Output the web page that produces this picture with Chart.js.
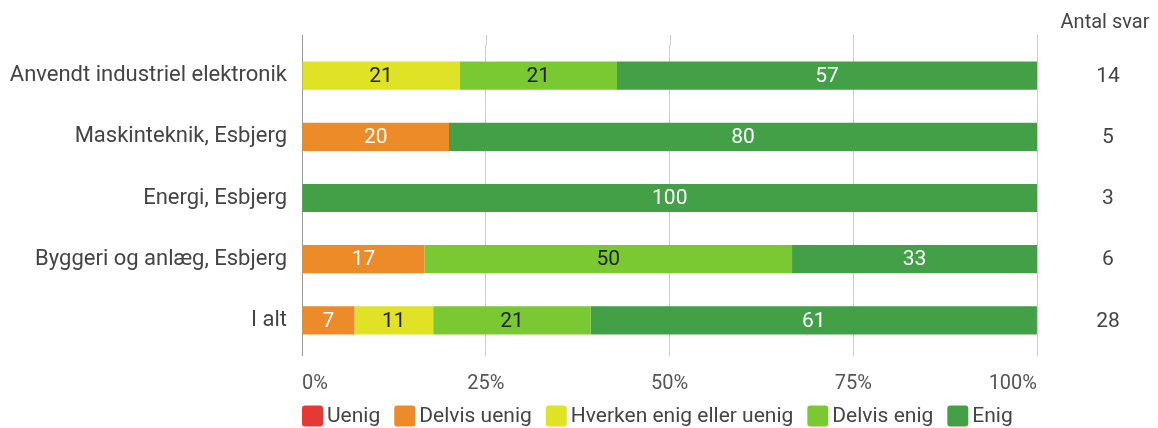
<!DOCTYPE html>
<html><head><meta charset="utf-8">
<script src="https://cdn.jsdelivr.net/npm/chart.js@4/dist/chart.umd.min.js"></script>
<style>html,body{margin:0;padding:0;background:#fff}#wrap{width:1158px;height:428px}</style>
</head><body><div id="wrap"><canvas id="c" width="1158" height="428"></canvas></div>
<script>
const categories = ["Anvendt industriel elektronik","Maskinteknik, Esbjerg","Energi, Esbjerg","Byggeri og anlæg, Esbjerg","I alt"];
const seriesNames = ["Uenig","Delvis uenig","Hverken enig eller uenig","Delvis enig","Enig"];
const uenig = [0,0,0,0,0];
const delvisUenig = [0,20,0,16.67,7.14];
const hverken = [21.43,0,0,0,10.71];
const delvisEnig = [21.43,0,0,50,21.43];
const enig = [57.14,80,100,33.33,60.71];
const antalSvar = [14,5,3,6,28];
const xTicks = [0,25,50,75,100];

const colors = ["#E53935","#EC8B28","#E0E226","#7AC832","#43A047"];
const labelColors = ["#ffffff","#ffffff","#222222","#222222","#ffffff"];
const FONT = "Roboto";

function roundRect(ctx,x,y,w,h,r){
  ctx.beginPath();
  ctx.moveTo(x+r,y); ctx.lineTo(x+w-r,y); ctx.quadraticCurveTo(x+w,y,x+w,y+r);
  ctx.lineTo(x+w,y+h-r); ctx.quadraticCurveTo(x+w,y+h,x+w-r,y+h);
  ctx.lineTo(x+r,y+h); ctx.quadraticCurveTo(x,y+h,x,y+h-r);
  ctx.lineTo(x,y+r); ctx.quadraticCurveTo(x,y,x+r,y); ctx.closePath();
}

const valueLabels = {
  id:'valueLabels',
  afterDatasetsDraw(chart){
    const ctx = chart.ctx;
    ctx.save();
    ctx.font = "21px " + FONT;
    ctx.textAlign = 'center'; ctx.textBaseline = 'middle';
    chart.data.datasets.forEach((ds,i)=>{
      const meta = chart.getDatasetMeta(i);
      meta.data.forEach((bar,j)=>{
        const v = ds.data[j];
        if(!v) return;
        const p = bar.getProps(['x','y','base'],true);
        ctx.fillStyle = labelColors[i];
        ctx.fillText(String(Math.round(v)), (p.x+p.base)/2, p.y+1);
      });
    });
    const y = chart.scales.y;
    ctx.fillStyle = "#444";
    ctx.font = "20px " + FONT;
    ctx.fillText("Antal svar", 1105, 23);
    ctx.font = "21px " + FONT;
    antalSvar.forEach((n,j)=>{
      ctx.fillText(String(n), 1108, y.getPixelForValue(j)+1);
    });
    // legend
    const a = chart.chartArea;
    let lx = a.left;
    const ly = 416;
    ctx.font = "21px " + FONT;
    ctx.textAlign = 'left';
    seriesNames.forEach((name,i)=>{
      ctx.fillStyle = colors[i];
      roundRect(ctx, lx, ly-10.5, 21, 21, 3); ctx.fill();
      ctx.fillStyle = "#444";
      ctx.fillText(name, lx+25, ly+1);
      lx += 25 + ctx.measureText(name).width + 14;
    });
    ctx.restore();
  },
  beforeDatasetsDraw(chart){
    const ctx = chart.ctx, x = chart.scales.x, a = chart.chartArea;
    ctx.save();
    ctx.strokeStyle = "#cccccc"; ctx.lineWidth = 1;
    xTicks.forEach(t=>{
      const px = Math.round(x.getPixelForValue(t))+0.5;
      ctx.beginPath(); ctx.moveTo(px, a.top-10); ctx.lineTo(px, a.top); ctx.stroke();
    });
    ctx.strokeStyle = "#999999";
    const p0 = Math.round(x.getPixelForValue(0))+0.5;
    ctx.beginPath(); ctx.moveTo(p0, a.top-10); ctx.lineTo(p0, a.bottom+5); ctx.stroke();
    ctx.restore();
  }
};

const series = [uenig, delvisUenig, hverken, delvisEnig, enig];
new Chart(document.getElementById('c'), {
  type:'bar',
  data:{
    labels: categories,
    datasets: series.map((d,i)=>({label:seriesNames[i], data:d, backgroundColor:colors[i], borderWidth:0, barPercentage:0.46, categoryPercentage:1}))
  },
  options:{
    indexAxis:'y', responsive:false, animation:false,
    layout:{padding:{top:45,right:121,left:0,bottom:16}},
    plugins:{
      legend:{display:false},
      tooltip:{enabled:false}
    },
    scales:{
      x:{stacked:true, min:0, max:100, afterBuildTicks(s){s.ticks = xTicks.map(v=>({value:v}));},
         grid:{color:'#cccccc', tickLength:5, drawTicks:true}, border:{display:false},
         ticks:{align:'inner', font:{family:FONT,size:20}, color:'#555', padding:16, callback:v=>v+'%'}},
      y:{stacked:true, grid:{display:false, drawTicks:false}, border:{display:false},
         afterFit(s){s.width = 302;},
         ticks:{font:{family:FONT,size:22}, color:'#444', padding:15}}
    }
  },
  plugins:[valueLabels]
});
</script></body></html>
